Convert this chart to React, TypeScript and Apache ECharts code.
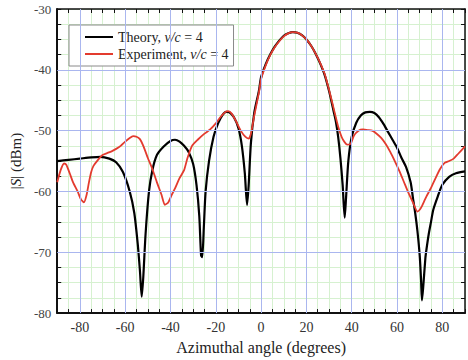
import React, { useEffect, useRef } from "react";
import * as echarts from "echarts";

// ---- Data ----
const thetaTheory = [
  -90, -85, -80, -75, -71, -67, -64, -61, -58, -56, -54.5, -53.5, -52.7, -52, -51, -49.5, -48, -46, -43, -40,
  -38, -36, -34, -32, -30, -28.5, -27.3, -26.5, -26, -25.3, -24.5, -23, -21, -19, -17, -15.5, -14, -12, -10,
  -8.5, -7.2, -6.2, -5.5, -4.5, -3, -1, 0, 2, 4, 6, 8, 10, 12, 14, 16, 18, 20, 22, 24, 26, 28, 30, 32, 33, 34,
  35, 36, 36.9, 37.5, 38.5, 40, 42, 44, 46, 48, 50, 52, 54, 56, 58, 60, 62, 64, 66, 67, 68, 69, 70, 70.6, 71,
  71.5, 72.5, 73, 74, 75, 76, 78, 80, 83, 86, 90,
];
const sTheory = [
  -55.0, -54.8, -54.6, -54.4, -54.3, -54.6, -55.2, -56.8, -60.0, -63.5, -68.5, -73.0, -77.3, -74.0, -67.0, -60.0,
  -56.5, -54.0, -52.6, -51.7, -51.5, -51.8, -52.5, -53.5, -55.5, -59.0, -64.0, -70.5, -70.8, -66.0, -60.0, -55.0,
  -51.0, -48.8, -47.4, -46.9, -47.0, -47.8, -49.6, -52.5, -57.0, -62.2, -59.0, -52.0, -47.0, -43.5, -41.2, -39.1,
  -37.5, -36.2, -35.2, -34.4, -34.0, -33.8, -33.9, -34.3, -35.0, -36.0, -37.3, -38.9, -40.8, -43.5, -46.8, -48.5,
  -51.0, -54.5, -59.0, -64.3, -61.0, -55.0, -51.0, -48.7, -47.5, -47.0, -46.9, -47.1, -47.8, -48.9, -50.2, -51.5,
  -52.8, -54.5, -56.0, -58.5, -61.0, -63.5, -66.5, -70.5, -74.5, -77.9, -76.0, -71.0, -69.5, -67.0, -65.0, -63.0,
  -60.8, -58.9, -57.6, -57.0, -56.7,
];

const thetaExp = [
  -90, -88.5, -87, -86, -84.5, -83, -81, -79.5, -78.2, -77, -76, -75, -74, -72, -70, -68, -66, -64, -62, -60, -58,
  -56.5, -55, -53.5, -52, -50, -48, -46, -44, -42.5, -41, -39.5, -38, -36, -34, -32.5, -30.5, -28, -25, -22.5, -20,
  -18, -16, -14.5, -13, -11, -9, -7, -5.5, -4.5, -3, -1, 0, 2, 4, 6, 8, 10, 12, 14, 16, 18, 20, 22, 24, 26, 28, 30,
  32, 34, 36, 38, 39.5, 41, 43, 45, 47, 49, 51, 53, 55, 57, 59, 61, 63, 65, 67, 69, 70, 71, 72, 73, 75, 77, 79, 81,
  83, 85, 87, 89, 90,
];
const sExp = [
  -58.5, -56.5, -55.4, -55.6, -57.0, -58.5, -60.0, -61.3, -61.8, -60.5, -58.5, -56.8, -55.8, -54.8, -54.0, -53.7,
  -53.4, -53.0, -52.5, -51.8, -51.2, -50.9, -51.0, -51.4, -52.5, -54.5, -56.3, -58.5, -60.5, -62.2, -61.8, -60.6,
  -59.5, -57.8, -56.5, -54.5, -52.5, -51.5, -50.5, -49.8, -48.8, -47.8, -47.0, -46.8, -47.2, -48.5, -50.0, -51.0,
  -51.3, -50.5, -47.5, -43.8, -41.5, -39.3, -37.6, -36.3, -35.3, -34.5, -34.0, -33.8, -33.9, -34.3, -35.0, -36.0,
  -37.3, -38.8, -40.6, -43.3, -46.3, -49.3, -51.4, -52.3, -52.2, -50.8, -50.0, -49.8, -49.9, -50.0, -50.5, -51.2,
  -52.2, -53.5, -55.0, -56.6, -58.4, -60.2, -61.8, -63.3, -63.0, -62.4, -61.6, -60.8, -59.4, -57.8, -56.3, -55.3,
  -55.0, -54.6, -53.8, -53.0, -52.6,
];

const xMajorTicks = [-80, -60, -40, -20, 0, 20, 40, 60, 80];
const yMajorTicks = [-80, -70, -60, -50, -40, -30];
const legendNames = ["Theory, {i|v/c} = 4", "Experiment, {i|v/c} = 4"];

const SERIF = "'Liberation Serif', 'DejaVu Serif', serif";

export default function App() {
  const ref = useRef<HTMLDivElement>(null);

  useEffect(() => {
    if (!ref.current) return;
    const chart = echarts.init(ref.current, undefined, { renderer: "svg" });

    const pairs = (xs: number[], ys: number[]) => xs.map((x, i) => [x, ys[i]]);
    const green = "#d6f1d0";
    const blue = "#aab6ef";

    const baseX = {
      type: "value" as const,
      min: -90,
      max: 90,
      interval: 5,
      axisLine: { show: true, onZero: false, lineStyle: { color: "#111", width: 1.5 } },
      axisTick: { show: true, inside: true, length: 4, lineStyle: { color: "#111", width: 1 } },
    };
    const baseY = {
      type: "value" as const,
      min: -80,
      max: -30,
      interval: 2.5,
      axisLine: { show: true, onZero: false, lineStyle: { color: "#111", width: 1.5 } },
      axisTick: { show: true, inside: true, length: 4, lineStyle: { color: "#111", width: 1 } },
    };

    chart.setOption({
      animation: false,
      backgroundColor: "#ffffff",
      grid: { left: 40, right: 3, top: 9, bottom: 39, containLabel: false },
      legend: {
        show: true,
        orient: "vertical",
        left: 69,
        top: 25,
        padding: [5, 5, 5, 16],
        itemGap: 3,
        itemWidth: 28,
        itemHeight: 2,
        icon: "rect",
        backgroundColor: "#ffffff",
        borderColor: "#8a8a8a",
        borderWidth: 1,
        data: legendNames,
        textStyle: {
          fontFamily: SERIF,
          fontSize: 14,
          color: "#222",
          lineHeight: 14,
          rich: { i: { fontStyle: "italic", fontFamily: SERIF, fontSize: 14, color: "#222" } },
        },
        formatter: (n: string) => n,
      },
      xAxis: [
        {
          ...baseX,
          position: "bottom",
          name: "Azimuthal angle (degrees)",
          nameLocation: "middle",
          nameGap: 23,
          nameTextStyle: { fontFamily: SERIF, fontSize: 16, color: "#222" },
          axisLine: { show: true, onZero: false, lineStyle: { color: "#111", width: 2 } },
          axisLabel: {
            show: true,
            margin: 7,
            fontFamily: SERIF,
            fontSize: 14,
            color: "#333",
            formatter: (v: number) => (xMajorTicks.includes(v) ? String(v) : ""),
          },
          splitLine: { show: true, lineStyle: { color: green, width: 1 } },
        },
        {
          ...baseX,
          position: "top",
          axisLabel: { show: false },
          splitLine: { show: false },
        },
      ],
      yAxis: [
        {
          ...baseY,
          position: "left",
          name: "|{i|S}| (dBm)",
          nameLocation: "middle",
          nameRotate: 90,
          nameGap: 26,
          nameTextStyle: {
            fontFamily: SERIF,
            fontSize: 15,
            color: "#222",
            rich: { i: { fontStyle: "italic", fontFamily: SERIF, fontSize: 15, color: "#222" } },
          },
          axisLine: { show: true, onZero: false, lineStyle: { color: "#111", width: 2 } },
          axisLabel: {
            show: true,
            margin: 6,
            fontFamily: SERIF,
            fontSize: 13,
            color: "#444",
            formatter: (v: number) => (yMajorTicks.includes(v) ? String(v) : ""),
          },
          splitLine: { show: true, lineStyle: { color: green, width: 1 } },
        },
        {
          ...baseY,
          position: "right",
          axisLabel: { show: false },
          splitLine: { show: false },
        },
      ],
      series: [
        {
          name: "grid-major",
          type: "line",
          data: [],
          silent: true,
          markLine: {
            silent: true,
            symbol: ["none", "none"],
            label: { show: false },
            lineStyle: { color: blue, width: 1, type: "solid" },
            data: [
              ...xMajorTicks.map((v) => ({ xAxis: v })),
              ...yMajorTicks.filter((v) => v > -80 && v < -30).map((v) => ({ yAxis: v })),
            ],
          },
        },
        {
          name: legendNames[0],
          type: "line",
          data: pairs(thetaTheory, sTheory),
          showSymbol: false,
          symbol: "none",
          smooth: 0.25,
          color: "#000000",
          lineStyle: { color: "#000000", width: 2.2 },
          z: 3,
        },
        {
          name: legendNames[1],
          type: "line",
          data: pairs(thetaExp, sExp),
          showSymbol: false,
          symbol: "none",
          smooth: 0.2,
          color: "#e33b2e",
          lineStyle: { color: "#e33b2e", width: 1.8 },
          z: 4,
        },
      ],
    });

    return () => chart.dispose();
  }, []);

  return (
    <div
      ref={ref}
      style={{ position: "fixed", left: 0, top: 0, width: 468, height: 360, background: "#fff" }}
    />
  );
}
